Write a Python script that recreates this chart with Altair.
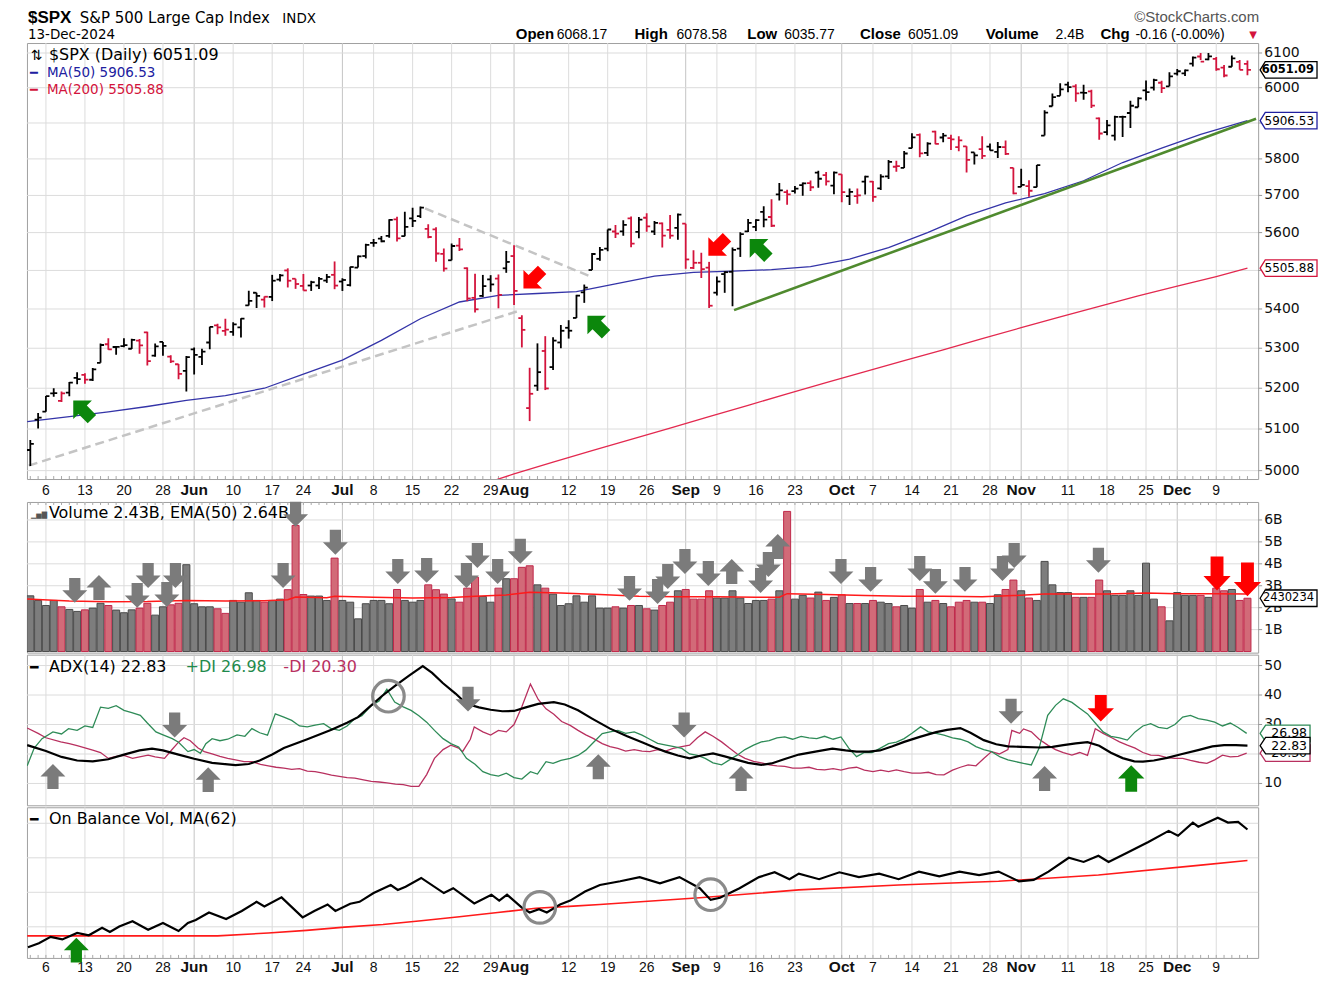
import altair as alt
import pandas as pd

alt.data_transformers.disable_max_rows()

# ------------------------------------------------------------------ data
month_days = [
    ("05", [2, 3, 6, 7, 8, 9, 10, 13, 14, 15, 16, 17, 20, 21, 22, 23, 24, 28, 29, 30, 31]),
    ("06", [3, 4, 5, 6, 7, 10, 11, 12, 13, 14, 17, 18, 20, 21, 24, 25, 26, 27, 28]),
    ("07", [1, 2, 3, 5, 8, 9, 10, 11, 12, 15, 16, 17, 18, 19, 22, 23, 24, 25, 26, 29, 30, 31]),
    ("08", [1, 2, 5, 6, 7, 8, 9, 12, 13, 14, 15, 16, 19, 20, 21, 22, 23, 26, 27, 28, 29, 30]),
    ("09", [3, 4, 5, 6, 9, 10, 11, 12, 13, 16, 17, 18, 19, 20, 23, 24, 25, 26, 27, 30]),
    ("10", [1, 2, 3, 4, 7, 8, 9, 10, 11, 14, 15, 16, 17, 18, 21, 22, 23, 24, 25, 28, 29, 30, 31]),
    ("11", [1, 4, 5, 6, 7, 8, 11, 12, 13, 14, 15, 18, 19, 20, 21, 22, 25, 26, 27, 29]),
    ("12", [2, 3, 4, 5, 6, 9, 10, 11, 12, 13]),
]
dates = [f"2024-{m}-{d:02d}" for m, ds in month_days for d in ds]
prev_close_first = 5018.39

opens = [
    5049.3, 5122.8, 5142.4, 5187.2, 5169.0, 5189.0, 5225.5, 5233.1, 5221.1, 5263.3, 5310.1, 5303.1, 5305.4, 5298.7, 5319.3, 5340.3, 5281.5, 5315.9, 5278.7, 5259.8, 5243.2,
    5297.2, 5278.2, 5314.5, 5357.8, 5343.8, 5341.2, 5353.0, 5409.1, 5441.9, 5424.1, 5431.1, 5476.2, 5500.0, 5478.3, 5459.6, 5460.7, 5460.7, 5473.6, 5488.5,
    5471.1, 5461.8, 5507.4, 5537.9, 5572.8, 5584.2, 5591.3, 5635.2, 5590.8, 5638.2, 5644.1, 5610.1, 5608.6, 5543.4, 5526.7, 5565.3, 5505.8, 5428.7, 5433.7, 5476.6, 5478.7, 5505.6,
    5537.8, 5376.6, 5151.1, 5206.4, 5293.1, 5252.6, 5314.6, 5351.9, 5377.0, 5443.0, 5501.1, 5530.5, 5557.2, 5602.9, 5603.1, 5637.8, 5602.0, 5639.7, 5602.9, 5624.5, 5607.3, 5612.7,
    5623.9, 5506.7, 5520.1, 5507.3, 5442.1, 5490.5, 5496.4, 5557.5, 5603.3, 5615.1, 5655.5, 5641.7, 5702.6, 5709.2, 5711.9, 5727.8, 5733.6, 5762.2, 5755.4, 5726.5,
    5757.7, 5698.2, 5698.2, 5737.8, 5737.8, 5719.1, 5751.8, 5778.4, 5775.1, 5829.8, 5866.7, 5816.6, 5875.6, 5859.4, 5857.8, 5832.7, 5834.5, 5817.8, 5826.8, 5833.9, 5819.7, 5832.7, 5775.3,
    5723.2, 5725.2, 5722.4, 5864.9, 5947.2, 5976.8, 6008.9, 6003.6, 5985.8, 5989.6, 5912.8, 5874.2, 5864.4, 5917.1, 5928.1, 5944.4, 5992.3, 6000.0, 6014.1, 6004.0,
    6040.1, 6041.0, 6069.4, 6089.8, 6081.4, 6083.0, 6057.6, 6060.2, 6074.3, 6068.17,
]
highs = [
    5073.2, 5139.1, 5181.0, 5200.2, 5192.0, 5215.3, 5239.7, 5237.3, 5250.4, 5311.8, 5325.5, 5305.4, 5325.3, 5324.3, 5323.2, 5341.9, 5311.7, 5315.9, 5282.3, 5260.2, 5280.3,
    5302.1, 5298.8, 5354.2, 5362.4, 5375.1, 5365.8, 5376.0, 5447.3, 5441.9, 5432.4, 5488.5, 5490.4, 5505.5, 5478.3, 5490.8, 5472.9, 5483.1, 5490.8, 5523.6,
    5479.6, 5509.7, 5539.3, 5570.3, 5583.1, 5590.8, 5635.4, 5642.5, 5655.6, 5666.9, 5669.7, 5622.5, 5614.1, 5557.5, 5571.0, 5585.3, 5508.0, 5491.6, 5488.3, 5487.7, 5489.5, 5551.4,
    5566.2, 5383.9, 5250.9, 5312.3, 5330.6, 5328.0, 5358.9, 5371.2, 5436.5, 5463.2, 5546.2, 5562.0, 5608.3, 5620.5, 5632.7, 5643.2, 5641.8, 5651.6, 5631.2, 5627.0, 5647.0, 5651.4,
    5623.9, 5553.0, 5546.3, 5522.5, 5484.2, 5497.9, 5560.4, 5600.7, 5636.3, 5636.0, 5670.8, 5689.8, 5733.6, 5715.1, 5725.4, 5735.3, 5741.0, 5767.4, 5763.8, 5765.1,
    5757.7, 5719.1, 5718.8, 5753.4, 5739.4, 5757.6, 5796.8, 5795.0, 5822.1, 5871.4, 5870.4, 5846.4, 5878.5, 5872.2, 5866.9, 5863.0, 5834.9, 5817.8, 5862.8, 5842.9, 5847.2, 5850.9, 5775.3,
    5772.6, 5741.4, 5783.4, 5936.1, 5983.8, 6012.5, 6017.3, 6009.9, 6008.2, 5993.9, 5915.2, 5908.1, 5920.7, 5920.7, 5962.5, 5972.9, 6020.8, 6025.4, 6020.2, 6044.2,
    6053.6, 6052.1, 6089.8, 6100.0, 6099.9, 6088.5, 6065.4, 6092.6, 6079.7, 6078.58,
]
lows = [
    5011.1, 5101.2, 5142.4, 5179.0, 5165.9, 5180.4, 5209.7, 5211.2, 5218.0, 5263.3, 5296.2, 5283.6, 5302.4, 5297.9, 5286.0, 5256.9, 5278.4, 5280.9, 5262.7, 5222.1, 5191.7,
    5234.3, 5257.6, 5297.6, 5335.4, 5331.3, 5331.5, 5327.3, 5409.1, 5402.5, 5403.8, 5420.4, 5471.3, 5455.6, 5452.0, 5447.6, 5446.6, 5451.9, 5467.5, 5451.1,
    5446.5, 5458.4, 5507.4, 5531.6, 5562.5, 5574.6, 5586.4, 5576.5, 5590.4, 5614.7, 5639.0, 5584.8, 5522.8, 5497.0, 5526.7, 5550.9, 5420.0, 5391.0, 5430.7, 5444.4, 5401.7, 5493.8,
    5410.4, 5302.0, 5119.3, 5193.6, 5195.5, 5245.3, 5300.0, 5324.4, 5377.0, 5415.8, 5501.1, 5525.2, 5550.7, 5585.5, 5591.6, 5561.0, 5585.2, 5602.3, 5593.5, 5560.2, 5583.7, 5581.3,
    5504.3, 5503.7, 5480.3, 5402.6, 5434.5, 5441.7, 5407.0, 5535.5, 5601.6, 5604.5, 5614.1, 5615.1, 5686.4, 5674.5, 5704.9, 5699.0, 5712.1, 5721.0, 5727.3, 5703.5,
    5681.3, 5674.0, 5677.4, 5702.8, 5683.2, 5714.6, 5745.0, 5764.8, 5775.1, 5829.8, 5804.5, 5808.3, 5840.3, 5846.1, 5824.8, 5821.2, 5762.4, 5784.9, 5800.0, 5823.1, 5802.5, 5810.6, 5702.9,
    5723.2, 5696.5, 5722.1, 5864.9, 5947.2, 5976.8, 5986.7, 5960.1, 5965.9, 5942.3, 5853.0, 5866.0, 5850.9, 5860.6, 5885.8, 5944.4, 5963.9, 5992.3, 5984.9, 6004.0,
    6035.3, 6033.4, 6061.1, 6080.0, 6079.0, 6048.6, 6029.9, 6060.2, 6051.2, 6035.77,
]
closes = [
    5064.2, 5127.8, 5180.7, 5187.7, 5187.2, 5214.1, 5222.7, 5221.4, 5246.7, 5308.2, 5297.1, 5303.3, 5308.1, 5321.4, 5307.0, 5267.8, 5304.7, 5306.0, 5266.9, 5235.5, 5277.5,
    5283.4, 5291.3, 5354.0, 5353.0, 5347.0, 5360.8, 5375.3, 5421.0, 5433.7, 5431.6, 5473.2, 5487.0, 5473.2, 5464.6, 5447.9, 5469.3, 5477.9, 5482.9, 5460.5,
    5475.1, 5509.0, 5537.0, 5567.2, 5572.9, 5577.0, 5633.9, 5584.5, 5615.4, 5631.2, 5667.2, 5588.3, 5544.6, 5505.0, 5564.4, 5555.7, 5427.1, 5399.2, 5459.1, 5463.5, 5436.4, 5522.3,
    5446.7, 5346.6, 5186.3, 5240.0, 5199.5, 5319.3, 5344.2, 5344.4, 5434.4, 5455.2, 5543.2, 5554.3, 5608.3, 5597.1, 5620.9, 5570.6, 5634.6, 5616.8, 5625.8, 5592.2, 5592.0, 5648.4,
    5528.9, 5520.1, 5503.4, 5408.4, 5471.1, 5495.5, 5554.1, 5595.8, 5626.0, 5633.1, 5634.6, 5618.3, 5713.6, 5702.6, 5718.6, 5732.9, 5722.3, 5745.4, 5738.2, 5762.5,
    5708.8, 5709.5, 5699.9, 5751.1, 5695.9, 5751.2, 5792.0, 5780.1, 5815.0, 5859.9, 5815.3, 5842.5, 5841.5, 5864.7, 5854.0, 5851.2, 5797.4, 5809.9, 5808.1, 5823.5, 5832.9, 5813.7, 5705.5,
    5728.8, 5712.7, 5782.8, 5929.0, 5973.1, 5995.5, 6001.4, 5984.0, 5985.4, 5949.2, 5870.6, 5893.6, 5917.0, 5917.1, 5948.7, 5969.3, 5987.4, 6021.6, 5998.7, 6032.4,
    6047.2, 6049.9, 6086.5, 6075.1, 6090.3, 6052.9, 6034.9, 6084.2, 6051.3, 6051.09,
]
volumes_b = [
    2.54, 2.33, 2.10, 2.33, 2.04, 1.92, 1.83, 1.90, 1.98, 2.20, 2.10, 1.89, 1.77, 1.90, 1.98, 2.20, 1.66, 2.04, 2.13, 2.20, 3.96,
    2.18, 2.04, 2.04, 1.95, 1.74, 2.33, 2.25, 2.68, 2.33, 2.25, 2.33, 2.39, 2.82, 5.75, 2.60, 2.53, 2.53, 2.33, 4.26,
    2.33, 2.25, 1.49, 2.18, 2.33, 2.33, 2.18, 2.83, 2.33, 2.25, 2.33, 3.04, 2.82, 2.62, 2.40, 2.25, 2.89, 3.39, 2.51, 2.25, 2.89, 3.32,
    3.32, 3.84, 3.91, 3.04, 2.89, 2.62, 2.10, 2.18, 2.54, 2.25, 2.54, 1.98, 1.98, 2.04, 1.98, 2.10, 2.10, 1.95, 1.89, 2.10, 2.25, 2.77,
    2.83, 2.39, 2.39, 2.77, 2.44, 2.44, 2.77, 2.44, 2.19, 2.33, 2.33, 2.39, 2.77, 6.39, 2.39, 2.56, 2.44, 2.71, 2.33, 2.47,
    2.59, 2.19, 2.19, 2.19, 2.33, 2.25, 2.19, 2.04, 2.10, 1.98, 2.83, 2.25, 2.33, 2.19, 2.04, 2.25, 2.33, 2.25, 2.25, 2.19, 2.59, 2.83, 3.26,
    2.77, 2.44, 2.33, 4.11, 3.04, 2.69, 2.69, 2.47, 2.47, 2.47, 3.26, 2.77, 2.56, 2.56, 2.77, 2.56, 4.03, 2.39, 2.04, 1.40,
    2.69, 2.56, 2.56, 2.56, 2.47, 2.89, 2.77, 2.83, 2.33, 2.43,
]

# moving averages and indicators (x = trading-day index, 0 = 6 May)
ma50_x = [-2.4, 3, 8, 13, 18, 23, 28, 33, 38, 43, 48, 53, 58, 63, 68, 73, 78, 83, 88, 93, 98, 103, 108, 113, 118, 123, 128, 133, 138, 143, 148, 154]
ma50_y = [5118, 5130, 5142, 5155, 5170, 5182, 5200, 5235, 5270, 5320, 5375, 5418, 5435, 5440, 5445, 5465, 5485, 5495, 5498, 5502, 5510, 5530, 5560, 5600, 5645, 5680, 5705, 5740, 5790, 5830, 5868, 5906.53]
ma200_x = [55, 60, 65, 70, 75, 80, 85, 90, 95, 100, 105, 110, 115, 120, 125, 130, 135, 140, 145, 150, 154]
ma200_y = [4962, 4992, 5020, 5048, 5075, 5102, 5130, 5158, 5186, 5214, 5241, 5269, 5296, 5324, 5352, 5380, 5407, 5434, 5459, 5484, 5505.88]
vema_x = [-2.4, 3, 8, 13, 18, 23, 28, 31, 32, 36, 37, 42, 47, 52, 55, 59, 62, 66, 71, 76, 81, 86, 91, 94, 95, 100, 105, 110, 115, 120, 124, 128, 132, 136, 141, 145, 150, 154]
vema_y = [2.40, 2.30, 2.27, 2.28, 2.33, 2.31, 2.32, 2.36, 2.49, 2.45, 2.52, 2.47, 2.44, 2.46, 2.52, 2.58, 2.70, 2.67, 2.60, 2.52, 2.50, 2.50, 2.48, 2.48, 2.64, 2.60, 2.55, 2.52, 2.52, 2.50, 2.55, 2.62, 2.62, 2.62, 2.67, 2.63, 2.64, 2.62]

adx_x = [-2.4, 0, 2, 4, 6, 8, 10, 12, 13.6, 15, 17, 19, 21.3, 24.3, 26, 27.4, 29, 30.5, 33.5, 36.6, 38.6, 40, 41.7, 43, 44.7, 46.5, 48.3, 49.5, 50.9, 52.5, 53.9, 55.5, 57, 58.5, 60, 61.5, 63.1, 65.1, 66.5, 68.2, 70, 72.3, 74.5, 76.4, 78, 79.4, 81, 82.5, 84, 85.5, 87, 88.6, 90, 91.7, 93, 94.7, 96.5, 98.8, 100.8, 102.5, 103.9, 105.5, 106.9, 108.5, 110, 112, 114.1, 115.5, 117.2, 118.5, 120.2, 121.8, 123.3, 125, 127.4, 129, 130.4, 132, 133.5, 135, 136.5, 138, 139.5, 140.6, 142, 143.7, 145.5, 147.8, 149.5, 151, 152.5, 154]
adx_y = [23.0, 21.0, 19.0, 17.8, 17.5, 18.2, 19.8, 21.2, 21.8, 21.2, 19.8, 18.4, 17.0, 16.2, 16.6, 17.8, 19.8, 22.0, 25.0, 28.2, 30.6, 32.5, 36.5, 39.5, 43.0, 46.5, 49.8, 47.5, 44.0, 40.5, 37.0, 35.8, 35.0, 34.5, 34.6, 35.8, 37.0, 37.6, 36.8, 34.8, 32.0, 28.6, 26.0, 24.0, 22.2, 20.8, 19.5, 18.5, 19.5, 20.2, 19.2, 18.0, 17.0, 16.3, 16.8, 18.3, 19.8, 20.9, 21.8, 21.2, 20.8, 20.8, 21.2, 22.6, 24.1, 25.8, 27.4, 28.2, 28.8, 27.2, 24.7, 23.3, 22.6, 22.4, 22.2, 22.4, 23.0, 23.6, 24.0, 22.8, 20.4, 18.6, 17.5, 17.4, 17.8, 18.7, 19.9, 21.4, 22.6, 23.0, 23.0, 22.83]
pdi_x = [-2.4, -1.5, -0.5, 0.9, 2, 2.9, 4, 5, 6, 7, 8, 9, 10, 11, 12.1, 13, 14.1, 15, 16.2, 17, 18.2, 19, 19.8, 20.5, 21.3, 22.3, 23.3, 24.5, 25.5, 26.4, 27.4, 28.4, 29.4, 30.5, 31.5, 32.5, 33.5, 34.5, 35.6, 36.5, 37.6, 38.6, 39.6, 40.5, 41.7, 42.7, 43.7, 44.7, 45.8, 46.8, 47.8, 48.8, 49.8, 50.9, 51.9, 52.9, 53.9, 55, 56, 57, 58, 59, 60, 61, 62.1, 63, 64.1, 65, 66, 67.2, 68.2, 69.2, 70.2, 71.3, 72.3, 73.3, 74.3, 75.4, 76.4, 77.4, 78.4, 79.5, 80.5, 81.5, 82.5, 83.5, 84.5, 85.5, 86.6, 87.6, 88.6, 89.6, 90.7, 91.7, 92.7, 93.7, 94.7, 95.7, 96.8, 97.8, 98.8, 99.8, 100.9, 101.9, 102.9, 103.9, 104.9, 105.9, 106.9, 108, 109, 110, 111, 112.1, 113.1, 114.1, 115.1, 116.2, 117.2, 118.2, 119.2, 120.2, 121.2, 122.3, 123.3, 124.3, 125.3, 126.3, 127.3, 128.4, 129.4, 130.4, 131.5, 132.5, 133.5, 134.5, 135.5, 136.5, 137.6, 138.6, 139.6, 140.6, 141.6, 142.6, 143.7, 144.7, 145.7, 146.7, 147.7, 148.8, 149.8, 150.8, 151.8, 152.8, 153.9]
pdi_y = [16.0, 22.0, 25.2, 27.5, 26.8, 28.6, 28.0, 29.5, 29.0, 35.9, 35.5, 36.4, 34.8, 34.0, 33.1, 30.5, 27.5, 26.5, 25.2, 24.0, 20.8, 21.5, 20.2, 23.5, 25.2, 24.5, 25.0, 26.5, 26.0, 28.6, 27.2, 26.4, 33.6, 32.5, 31.4, 29.5, 29.2, 29.8, 30.3, 28.7, 28.0, 29.5, 32.0, 33.0, 36.4, 38.0, 42.0, 37.6, 36.0, 34.8, 33.0, 30.8, 28.0, 25.2, 23.5, 22.4, 18.5, 16.5, 14.0, 13.0, 12.5, 13.5, 12.0, 11.5, 14.0, 13.2, 17.4, 16.8, 17.8, 18.5, 19.5, 21.3, 24.0, 26.9, 27.5, 28.0, 27.0, 27.5, 26.4, 25.0, 23.6, 23.0, 22.5, 21.9, 20.0, 19.5, 18.5, 17.0, 16.3, 18.0, 19.6, 21.5, 23.0, 24.1, 24.5, 25.5, 25.8, 25.0, 26.0, 25.5, 25.2, 26.0, 25.0, 25.8, 22.0, 19.1, 20.5, 20.5, 21.9, 23.5, 24.0, 25.2, 27.0, 29.2, 27.5, 27.0, 26.4, 25.5, 25.0, 24.1, 22.5, 21.5, 20.8, 19.0, 18.0, 17.4, 16.8, 16.3, 22.0, 33.1, 36.5, 38.7, 37.5, 35.5, 33.6, 30.5, 27.5, 26.0, 25.5, 24.7, 27.5, 29.5, 30.3, 29.0, 28.6, 30.0, 32.5, 33.1, 32.0, 31.5, 30.8, 29.5, 30.5, 29.0, 26.98]
mdi_x = [-2.4, -1, 0, 1.9, 3, 4, 6, 7, 8, 9, 10, 11.1, 12, 13.1, 14, 15.2, 16, 17, 17.7, 18.5, 19.5, 20.3, 21.3, 22.3, 23.3, 24.3, 25.4, 26.4, 27.5, 28.5, 29.5, 30.5, 31.5, 32.5, 33.5, 34.5, 35.5, 36.6, 37.6, 38.6, 39.6, 40.7, 41.7, 42.7, 43.7, 44.8, 45.8, 46.8, 47.8, 48.8, 49.8, 50.9, 51.9, 52.9, 53.4, 54.4, 54.9, 56, 57, 58, 59, 60, 61, 62.1, 63.1, 64.1, 65.1, 66.1, 67.2, 68.2, 69.2, 70.2, 71.3, 72.3, 73.3, 74.3, 75.4, 76.4, 77.4, 78.4, 79.4, 80.4, 81.5, 82.5, 83.5, 84.5, 85.5, 86.6, 87.6, 88.6, 89.6, 90.7, 91.7, 92.7, 93.7, 94.7, 95.7, 96.8, 97.8, 98.8, 99.8, 100.9, 101.9, 102.9, 103.9, 104.9, 106, 107, 108, 109, 110, 111, 112.1, 113.1, 114.1, 115.1, 116.2, 117.2, 118.2, 119.2, 120.2, 121.2, 122.2, 123.3, 123.8, 124.8, 125.3, 126.3, 127.3, 128.4, 129.4, 130.4, 131.5, 132.5, 133.5, 134.5, 135.5, 136.6, 137.6, 138.6, 139.6, 140.6, 141.6, 142.6, 143.7, 144.7, 145.7, 146.7, 147.8, 148.8, 149.8, 150.8, 151.8, 152.8, 153.9]
mdi_y = [28.8, 27.0, 25.5, 24.1, 23.5, 22.8, 21.3, 20.5, 18.5, 19.2, 19.5, 18.5, 19.0, 19.6, 19.0, 18.5, 21.0, 24.0, 25.5, 24.5, 22.0, 20.8, 20.0, 19.2, 18.5, 18.0, 17.4, 17.4, 16.5, 16.0, 15.5, 15.2, 14.8, 15.0, 14.2, 14.0, 13.5, 12.8, 12.4, 12.0, 11.8, 11.2, 10.7, 10.5, 10.2, 9.8, 9.6, 9.0, 9.0, 13.0, 18.5, 21.5, 23.0, 22.0, 20.8, 25.0, 29.2, 27.5, 26.4, 28.0, 27.5, 30.0, 36.0, 43.7, 38.5, 35.3, 33.5, 31.0, 29.7, 28.0, 26.5, 25.2, 23.5, 22.5, 21.9, 21.0, 21.5, 21.0, 20.8, 21.5, 21.0, 21.9, 22.5, 23.0, 25.5, 27.5, 26.0, 24.1, 22.0, 20.0, 18.5, 17.5, 17.0, 16.3, 16.0, 15.8, 15.2, 15.2, 15.5, 14.8, 14.6, 15.0, 14.5, 15.2, 15.5, 14.5, 14.0, 14.5, 14.0, 14.6, 14.0, 13.5, 13.5, 13.8, 13.0, 12.9, 14.5, 15.5, 16.3, 16.0, 18.5, 20.8, 20.0, 21.5, 28.0, 27.0, 28.5, 27.5, 25.0, 23.0, 21.5, 20.5, 19.6, 20.5, 19.5, 28.6, 27.0, 25.5, 24.1, 23.0, 22.0, 20.5, 19.6, 19.5, 18.8, 18.5, 18.5, 17.8, 17.2, 16.8, 18.0, 19.6, 19.0, 19.2, 20.3]

obv_x = [-2.3, -0.9, 0.6, 2.1, 4.0, 5.5, 7.2, 8.2, 9.4, 11.1, 13.1, 15.0, 17.0, 18.2, 19.2, 20.9, 23.1, 25.1, 27.0, 28.0, 30.2, 32.9, 34.4, 36.1, 37.1, 39.0, 40.2, 42.0, 44.2, 45.1, 46.1, 48.1, 51.0, 52.2, 54.9, 57.1, 58.1, 59.1, 61.0, 62.0, 63.2, 64.2, 65.9, 67.2, 69.1, 71.0, 73.6, 76.1, 78.7, 81.2, 83.8, 85.2, 86.4, 88.9, 91.4, 93.4, 95.3, 96.5, 99.1, 101.7, 104.2, 106.8, 109.3, 111.9, 114.5, 117.1, 119.6, 122.1, 124.7, 126.6, 128.5, 131.1, 133.0, 134.9, 136.2, 138.7, 141.3, 143.9, 145.1, 147.0, 147.7, 150.2, 151.5, 152.8, 154.0]
obv_y = [2.04, 2.61, 3.55, 3.17, 4.11, 3.77, 4.86, 4.25, 5.04, 5.80, 4.58, 5.56, 4.39, 5.56, 5.99, 7.07, 6.13, 7.30, 8.62, 7.96, 9.27, 6.37, 7.30, 8.24, 7.30, 8.34, 8.62, 9.89, 11.06, 10.35, 10.82, 12.08, 9.89, 10.59, 8.38, 9.65, 8.80, 9.65, 7.77, 7.07, 7.54, 7.07, 8.24, 8.80, 10.11, 11.06, 11.6, 12.2, 11.3, 12.2, 10.6, 8.9, 9.2, 10.6, 12.2, 12.9, 11.9, 12.7, 11.9, 12.9, 12.2, 12.7, 11.9, 13.0, 12.3, 13.0, 12.5, 13.0, 11.6, 11.8, 13.0, 15.0, 14.4, 15.3, 14.4, 15.8, 17.3, 18.9, 18.2, 20.1, 19.5, 20.8, 20.1, 20.2, 19.1]
obvma_x = [-2.4, 22, 28.5, 33.4, 38.3, 43.2, 48.1, 53.0, 57.9, 62.8, 67.6, 71.0, 83.8, 96.5, 109.3, 122.1, 134.9, 147.7, 154.0]
obvma_y = [3.69, 3.69, 4.10, 4.48, 4.96, 5.33, 5.89, 6.45, 7.07, 7.68, 8.00, 8.24, 9.20, 10.35, 11.06, 11.60, 12.50, 13.90, 14.60]

# axis ticks (labels hidden under value tags in the original are left out)
tick_idx = [0, 5, 10, 15, 19, 24, 29, 33, 38, 42, 47, 52, 57, 60, 67, 72, 77, 82, 86, 91, 96, 102, 106, 111, 116, 121, 125, 131, 136, 141, 145, 150]
tick_lbl = ["6", "13", "20", "28", "Jun", "10", "17", "24", "Jul", "8", "15", "22", "29", "Aug", "12", "19", "26", "Sep", "9", "16", "23", "Oct", "7", "14", "21", "28", "Nov", "11", "18", "25", "Dec", "9"]
month_idx = [19, 38, 60, 82, 102, 125, 145]
price_grid = [5000, 5100, 5200, 5300, 5400, 5500, 5600, 5700, 5800, 5900, 6000, 6100]
price_lbl_vals = [5000, 5100, 5200, 5300, 5400, 5600, 5700, 5800, 6000, 6100]
vol_grid = [1, 2, 3, 4, 5, 6]
vol_lbl_vals = [1, 2, 3, 4, 5, 6]
vol_lbl = ["1B", "2B", "3B", "4B", "5B", "6B"]
adx_grid = [10, 20, 30, 40, 50]
adx_lbl_vals = [10, 30, 40, 50]
obv_grid = [5, 10, 15, 20]

# annotations (data coordinates)
price_up_x, price_up_y = [4.7, 70.6, 91.4], [5147, 5359, 5558]
price_dn_x, price_dn_y = [62.4, 86.1], [5477, 5563]
dash_line = [("a", -2.2, 5012), ("a", 60.9, 5397), ("b", 48.6, 5665), ("b", 69.7, 5485)]
green_line_x, green_line_y = [88.2, 155.1], [5397, 5912]
vol_dn_x = [3.7, 11.7, 13.1, 15.5, 16.6, 30.4, 32.0, 37.1, 45.1, 48.8, 53.9, 55.3, 57.9, 60.8, 74.8, 78.4, 79.7, 81.9, 84.9, 91.6, 92.6, 101.9, 105.7, 112.0, 114.0, 117.8, 122.6, 124.1, 134.9]
vol_dn_y = [2.79, 2.56, 3.47, 2.60, 3.47, 3.47, 6.26, 4.98, 3.65, 3.70, 3.47, 4.38, 3.65, 4.57, 2.88, 2.74, 3.42, 4.11, 3.56, 3.24, 3.97, 3.65, 3.29, 3.79, 3.20, 3.29, 3.79, 4.38, 4.16]
vol_up_x, vol_up_y = [6.8, 87.9, 93.8], [2.92, 3.65, 4.79]
vol_red_x, vol_red_y = [150.1, 154.0], [3.56, 3.29]
adx_up_x, adx_up_y = [0.9, 20.8, 70.8, 89.1, 128.0], [12.35, 11.3, 15.7, 11.7, 11.7]
adx_dn_x, adx_dn_y = [16.5, 54.1, 81.8, 123.7], [29.8, 38.6, 29.8, 34.5]
adx_red_x, adx_red_y = [135.2], [35.5]
adx_green_x, adx_green_y = [139.1], [11.7]
adx_circle_x, adx_circle_y = [43.9], [39.6]
obv_green_x, obv_green_y = [3.9], [1.62]
obv_circle_x, obv_circle_y = [63.3, 85.2], [7.82, 9.65]

quote = {"open": "6068.17", "high": "6078.58", "low": "6035.77", "close": "6051.09", "vol": "2.4B", "chg": "-0.16 (-0.00%)"}
legend_vals = {"ma50": "5906.53", "ma200": "5505.88", "vol": "2.43B", "vema": "2.64B", "vol_tag": "2430234",
               "adx": "22.83", "pdi": "26.98", "mdi": "20.30"}

# ------------------------------------------------------------------ frames
n = len(dates)
idx = [i - 2 for i in range(n)]
prev = [prev_close_first] + closes[:-1]
dirs = ["up" if c >= p else "down" for c, p in zip(closes, prev)]
bars = pd.DataFrame({"idx": idx, "date": dates, "open": opens, "high": highs, "low": lows, "close": closes, "dir": dirs})
bars["xo"] = bars["idx"] - 0.45
bars["xc"] = bars["idx"] + 0.45
vol = pd.DataFrame({"idx": idx, "v": volumes_b, "dir": dirs})
vol["x0"] = vol["idx"] - 0.45
vol["x1"] = vol["idx"] + 0.45
xticks = pd.DataFrame({"idx": tick_idx, "lbl": tick_lbl, "month": [i in month_idx for i in tick_idx]})


def xy(xs_, ys_):
    return pd.DataFrame({"idx": xs_, "v": ys_})


# ------------------------------------------------------------------ styling
W = 1234
HP, HV, HA, HO = 437, 151, 151, 151
XS = alt.Scale(domain=[-2.43, 155.37], nice=False, zero=False)
PS = alt.Scale(type="log", domain=[4980.0, 6129.0], nice=False, zero=False)
VS = alt.Scale(domain=[-0.05, 6.82], nice=False, zero=False)
AS = alt.Scale(domain=[2.6, 53.7], nice=False, zero=False)
OS = alt.Scale(domain=[0.49, 22.32], nice=False, zero=False)

UP_C, DN_C = "#000000", "#d3143c"
DIR_SCALE = alt.Scale(domain=["up", "down"], range=[UP_C, DN_C])
AXFONT = "Liberation Sans"
LEG_FONT = "DejaVu Sans"
LEG_SIZE = 16
GRID = "#dcdcdc"
GRID_M = "#c4c4c4"

DOWN = "M-0.45,-1L0.45,-1L0.45,0L1,0L0,1L-1,0L-0.45,0Z"
UP = "M-0.45,1L0.45,1L0.45,0L1,0L0,-1L-1,0L-0.45,0Z"
RED_DOWN = "M-0.38,-1L0.38,-1L0.38,0.15L0.8,0.15L0,1L-0.8,0.15L-0.38,0.15Z"
TAG_P = "M-1,0L-0.82,-0.29L1,-0.29L1,0.29L-0.82,0.29Z"
TAG_A = "M-1,0L-0.78,-0.33L1,-0.33L1,0.33L-0.78,0.33Z"

X_ = dict(scale=XS, axis=None)


def grid_layers(H, ys, grid_vals, lbl_vals=None, lbls=None):
    """Grid lines, right-hand labels and ticks drawn through the panel's own scales."""
    layers = [
        alt.Chart(xticks).transform_filter("!datum.month").mark_rule(color=GRID, strokeWidth=1).encode(
            x=alt.X("idx:Q", **X_), y=alt.value(0), y2=alt.value(H)),
        alt.Chart(xticks).transform_filter("datum.month").mark_rule(color=GRID_M, strokeWidth=1).encode(
            x=alt.X("idx:Q", **X_), y=alt.value(0), y2=alt.value(H)),
        alt.Chart(pd.DataFrame({"v": grid_vals})).mark_rule(color=GRID, strokeWidth=1).encode(
            y=alt.Y("v:Q", scale=ys, axis=None), x=alt.value(0), x2=alt.value(W)),
    ]
    if lbl_vals:
        ldf = pd.DataFrame({"v": lbl_vals, "lbl": lbls if lbls else [str(v) for v in lbl_vals]})
        layers.append(alt.Chart(pd.DataFrame({"v": grid_vals})).mark_rule(color="#999", strokeWidth=1).encode(
            y=alt.Y("v:Q", scale=ys, axis=None), x=alt.value(W), x2=alt.value(W + 4)))
        layers.append(alt.Chart(ldf).mark_text(align="left", baseline="middle", font=LEG_FONT, fontSize=14,
                                               color="#111").encode(
            y=alt.Y("v:Q", scale=ys, axis=None), x=alt.value(W + 6), text="lbl:N"))
    return layers


def x_labels(H, dy):
    return [
        alt.Chart(xticks).transform_filter("!datum.month").mark_text(
            align="center", baseline="top", font=AXFONT, fontSize=14, color="#111").encode(
            x=alt.X("idx:Q", **X_), y=alt.value(H + dy), text="lbl:N"),
        alt.Chart(xticks).transform_filter("datum.month").mark_text(
            align="center", baseline="top", font=AXFONT, fontSize=15.5, fontWeight="bold", color="#111").encode(
            x=alt.X("idx:Q", **X_), y=alt.value(H + dy - 1), text="lbl:N"),
    ]


ONE = pd.DataFrame({"k": [0]})


def txt(s, x, y, size=14, color="#000", weight="normal", font=LEG_FONT, align="left", baseline="alphabetic"):
    return alt.Chart(ONE).mark_text(text=s, align=align, baseline=baseline, font=font, fontSize=size,
                                    fontWeight=weight, color=color).encode(x=alt.value(x), y=alt.value(y))


def line(df, ys, color, width, dash=None, detail=None):
    kw = dict(color=color, strokeWidth=width, clip=True)
    if dash:
        kw["strokeDash"] = dash
    enc = dict(x=alt.X("idx:Q", **X_), y=alt.Y("v:Q", scale=ys, axis=None))
    if detail:
        enc["detail"] = detail
    return alt.Chart(df).mark_line(**kw).encode(**enc)


def arrows(df, ys, shape, color, size, angle=0):
    return alt.Chart(df).mark_point(shape=shape, filled=True, fill=color, color=color, size=size, angle=angle,
                                    opacity=1, strokeWidth=0).encode(
        x=alt.X("idx:Q", **X_), y=alt.Y("v:Q", scale=ys, axis=None))


def circles(df, ys):
    return alt.Chart(df).mark_point(shape="circle", filled=False, stroke="#8a8a8a", strokeWidth=3.2, size=1000,
                                    opacity=1).encode(
        x=alt.X("idx:Q", **X_), y=alt.Y("v:Q", scale=ys, axis=None))


def tag(value, label, color, ys, path, width, bold=False, fs=12.5):
    """Value tag at the right edge; the text is right-aligned inside the box."""
    df = pd.DataFrame({"v": [value], "t": [label]})
    box = alt.Chart(df).mark_point(shape=path, filled=True, fill="white", stroke=color, strokeWidth=1.3,
                                   size=width * width, opacity=1).encode(
        x=alt.value(W + 2 + width / 2), y=alt.Y("v:Q", scale=ys, axis=None))
    t = alt.Chart(df).mark_text(align="right", baseline="middle", font=LEG_FONT, fontSize=fs,
                                fontWeight="bold" if bold else "normal", color="#000").encode(
        x=alt.value(W + width - 1), y=alt.Y("v:Q", scale=ys, axis=None), text="t:N")
    return box + t


def minor_ticks(y0, y1):
    return alt.Chart(bars).mark_rule(color="#a8a8a8", strokeWidth=1, clip=True).encode(
        x=alt.X("idx:Q", **X_), y=alt.value(y0), y2=alt.value(y1))


def spacer(y0, y1):
    return alt.Chart(ONE).mark_rule(opacity=0).encode(x=alt.value(1), y=alt.value(y0), y2=alt.value(y1))


# ------------------------------------------------------------------ price panel
hl = alt.Chart(bars).mark_rule(strokeWidth=1.8, clip=True).encode(
    x=alt.X("idx:Q", **X_), y=alt.Y("low:Q", scale=PS, axis=None), y2="high:Q",
    color=alt.Color("dir:N", scale=DIR_SCALE, legend=None))
op = alt.Chart(bars).mark_rule(strokeWidth=1.8, clip=True).encode(
    x=alt.X("xo:Q", **X_), x2="idx:Q", y=alt.Y("open:Q", scale=PS, axis=None),
    color=alt.Color("dir:N", scale=DIR_SCALE, legend=None))
cl = alt.Chart(bars).mark_rule(strokeWidth=1.8, clip=True).encode(
    x=alt.X("idx:Q", **X_), x2="xc:Q", y=alt.Y("close:Q", scale=PS, axis=None),
    color=alt.Color("dir:N", scale=DIR_SCALE, legend=None))

dash_df = pd.DataFrame(dash_line, columns=["line", "idx", "v"])
Q = dict(font=AXFONT)
price_layers = grid_layers(HP, PS, price_grid, price_lbl_vals) + x_labels(HP, 5) + [
    spacer(HP, HP + 21),
    minor_ticks(HP - 3, HP),
    line(xy(ma200_x, ma200_y), PS, "#e3294f", 1.3),
    line(xy(ma50_x, ma50_y), PS, "#3434a8", 1.3),
    line(dash_df, PS, "#c4c4c4", 2.5, dash=[9, 5], detail="line:N"),
    hl, op, cl,
    line(xy(green_line_x, green_line_y), PS, "#4f8a2e", 2.6),
    arrows(xy(price_up_x, price_up_y), PS, UP, "#0c870c", 700, angle=315),
    arrows(xy(price_dn_x, price_dn_y), PS, DOWN, "#ff0000", 700, angle=45),
    tag(5505.88, legend_vals["ma200"], "#d3143c", PS, TAG_P, 57, fs=12),
    tag(5906.53, legend_vals["ma50"], "#2020a0", PS, TAG_P, 57, fs=12),
    tag(6051.09, quote["close"], "#000000", PS, TAG_P, 57, bold=True, fs=11.5),
    # legend
    txt("⇅", 4, 17, 14),
    txt(f"$SPX (Daily) {quote['close']}", 22, 17, LEG_SIZE),
    txt("━", 3, 34, 13, color="#2020a0"),
    txt(f"MA(50) {legend_vals['ma50']}", 20, 34, 13.5, color="#2020a0"),
    txt("━", 3, 51, 13, color="#d3143c"),
    txt(f"MA(200) {legend_vals['ma200']}", 20, 51, 13.5, color="#d3143c"),
    # header
    txt("$SPX", 1, -20, 17, weight="bold", font=AXFONT),
    txt("S&P 500 Large Cap Index", 53, -20, 15),
    txt("INDX", 256, -20, 13.5),
    txt("13-Dec-2024", 1, -4, 13.5),
    txt("©StockCharts.com", 1235, -21, 15, color="#555", font=AXFONT, align="right"),
    txt("Open", 490, -4, 15, weight="bold", **Q),
    txt(quote["open"], 531, -4, 14, **Q),
    txt("High", 609, -4, 15, weight="bold", **Q),
    txt(quote["high"], 651, -4, 14, **Q),
    txt("Low", 722, -4, 15, weight="bold", **Q),
    txt(quote["low"], 759, -4, 14, **Q),
    txt("Close", 835, -4, 15, weight="bold", **Q),
    txt(quote["close"], 883, -4, 14, **Q),
    txt("Volume", 961, -4, 15, weight="bold", **Q),
    txt(quote["vol"], 1031, -4, 14, **Q),
    txt("Chg", 1076, -4, 15, weight="bold", **Q),
    txt(quote["chg"], 1111, -4, 14, **Q),
    txt("▼", 1225, -5, 10, color="#d3143c"),
]
price = alt.layer(*price_layers).properties(width=W, height=HP)

# ------------------------------------------------------------------ volume panel
vbars = alt.Chart(vol).mark_bar(strokeWidth=1, clip=True).encode(
    x=alt.X("x0:Q", **X_), x2="x1:Q",
    y=alt.Y("v:Q", scale=VS, axis=None), y2=alt.datum(0),
    fill=alt.Fill("dir:N", scale=alt.Scale(domain=["up", "down"], range=["#7d7d7d", "#d26a78"]), legend=None),
    stroke=alt.Stroke("dir:N", scale=alt.Scale(domain=["up", "down"], range=["#4a4a4a", "#c0284a"]), legend=None))
vol_layers = grid_layers(HV, VS, vol_grid, vol_lbl_vals, vol_lbl) + [
    vbars,
    minor_ticks(0, 3),
    line(xy(vema_x, vema_y), VS, "#ff1a1a", 1.5),
    txt("▁▅▇", 4, 15, 7, color="#555"),
    txt(f"Volume {legend_vals['vol']}, EMA(50) {legend_vals['vema']}", 22, 16, LEG_SIZE),
    arrows(xy(vol_dn_x, vol_dn_y), VS, DOWN, "#7b7b7b", 625),
    arrows(xy(vol_up_x, vol_up_y), VS, UP, "#7b7b7b", 625),
    arrows(xy(vol_red_x, vol_red_y), VS, RED_DOWN, "#ff0000", 1156),
    tag(2.43, legend_vals["vol_tag"], "#000000", VS, TAG_P, 57, fs=11.5),
]
volume = alt.layer(*vol_layers).properties(width=W, height=HV)

# ------------------------------------------------------------------ ADX panel
adx_layers = grid_layers(HA, AS, adx_grid, adx_lbl_vals) + [
    line(xy(mdi_x, mdi_y), AS, "#b8305f", 1.3),
    line(xy(pdi_x, pdi_y), AS, "#2e8b57", 1.3),
    line(xy(adx_x, adx_y), AS, "#000000", 2.2),
    txt("━", 3, 17, 14),
    txt(f"ADX(14) {legend_vals['adx']}", 22, 17, LEG_SIZE),
    txt(f"+DI {legend_vals['pdi']}", 159, 17, LEG_SIZE, color="#1f8a4c"),
    txt(f"-DI {legend_vals['mdi']}", 257, 17, LEG_SIZE, color="#b8305f"),
    arrows(xy(adx_up_x, adx_up_y), AS, UP, "#7b7b7b", 625),
    arrows(xy(adx_dn_x, adx_dn_y), AS, DOWN, "#7b7b7b", 625),
    arrows(xy(adx_red_x, adx_red_y), AS, DOWN, "#ff0000", 700),
    arrows(xy(adx_green_x, adx_green_y), AS, UP, "#0c870c", 700),
    circles(xy(adx_circle_x, adx_circle_y), AS),
    tag(20.30, legend_vals["mdi"], "#b8305f", AS, TAG_A, 50),
    tag(26.98, legend_vals["pdi"], "#2e8b57", AS, TAG_A, 50),
    tag(22.83, legend_vals["adx"], "#000000", AS, TAG_A, 50),
]
adxp = alt.layer(*adx_layers).properties(width=W, height=HA)

# ------------------------------------------------------------------ OBV panel
obv_layers = grid_layers(HO, OS, obv_grid) + x_labels(HO, 3) + [
    line(xy(obvma_x, obvma_y), OS, "#ff1a1a", 1.6),
    line(xy(obv_x, obv_y), OS, "#000000", 2.2),
    minor_ticks(HO - 3, HO),
    txt("━", 3, 17, 14),
    txt("On Balance Vol, MA(62)", 22, 17, LEG_SIZE),
    arrows(xy(obv_green_x, obv_green_y), OS, UP, "#0c870c", 625),
    circles(xy(obv_circle_x, obv_circle_y), OS),
]
obvp = alt.layer(*obv_layers).properties(width=W, height=HO)


def build(pad_top):
    return alt.vconcat(price, volume, adxp, obvp, spacing=0).properties(
        padding={"left": 18, "top": pad_top, "right": 0, "bottom": 0}, background="white"
    ).configure_view(stroke="#a0a0a0", strokeWidth=1)


try:
    chart = build(-1)
    chart.to_dict()
except Exception:
    chart = build(0)

chart.save("out.html", embed_options={"renderer": "svg", "actions": False})
